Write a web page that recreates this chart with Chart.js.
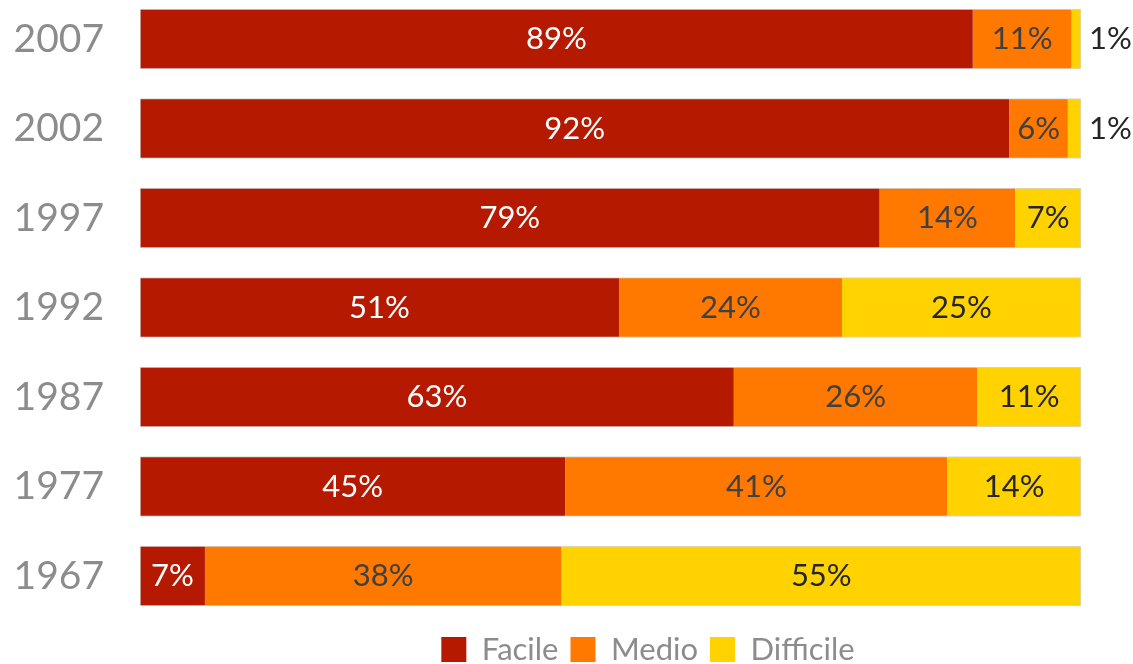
<!DOCTYPE html>
<html>
<head>
<meta charset="utf-8">
<script src="https://cdn.jsdelivr.net/npm/chart.js@4.4.1/dist/chart.umd.min.js"></script>
<style>
html, body { margin: 0; padding: 0; background: #fff; overflow: hidden; }
</style>
</head>
<body>
<canvas id="myChart" width="1133" height="664"></canvas>
<script>
var years = ["2007", "2002", "1997", "1992", "1987", "1977", "1967"];
var facile = [88.5, 92.4, 78.6, 50.9, 63.1, 45.2, 6.9];
var medio = [10.5, 6.2, 14.4, 23.7, 25.9, 40.6, 37.9];
var difficile = [1.0, 1.4, 7.0, 25.4, 11.0, 14.2, 55.2];

var seriesNames = ["Facile", "Medio", "Difficile"];
var seriesColors = ['#B51A00', '#FF7800', '#FFD200'];
var labelColors = ['#ffffff', '#404040', '#262626'];

Chart.defaults.font.family = 'Lato';

function points(values) {
    return values.map(function(v, i) { return { x: v, y: i }; });
}

// percent labels inside the segments, tiny ones go past the bar end
var valueLabels = {
    id: 'valueLabels',
    afterDatasetsDraw: function(chart) {
        var ctx = chart.ctx, area = chart.chartArea;
        ctx.save();
        ctx.font = '31px Lato';
        ctx.textBaseline = 'middle';
        chart.data.datasets.forEach(function(ds, di) {
            var meta = chart.getDatasetMeta(di);
            meta.data.forEach(function(bar, i) {
                var text = Math.round(ds.data[i].x) + '%';
                var p = bar.getProps(['x', 'y', 'base'], true);
                var w = Math.abs(p.x - p.base);
                var tw = ctx.measureText(text).width;
                ctx.fillStyle = labelColors[di];
                if (tw > w - 4) {
                    ctx.textAlign = 'left';
                    ctx.fillText(text, area.right + 8, p.y);
                } else {
                    ctx.textAlign = 'center';
                    ctx.fillText(text, (p.x + p.base) / 2, p.y);
                }
            });
        });
        ctx.restore();
    }
};

// move the legend so it sits where the original one is
var legendShift = {
    id: 'legendShift',
    afterLayout: function(chart) {
        var lg = chart.legend;
        var dx = 648 - (lg.left + lg.right) / 2;
        lg.left += dx;
        lg.right += dx;
    }
};

var ctx = document.getElementById('myChart').getContext('2d');
var chart = new Chart(ctx, {
    type: 'bar',
    data: {
        datasets: [facile, medio, difficile].map(function(values, di) {
            return {
                label: seriesNames[di],
                data: points(values),
                backgroundColor: seriesColors[di],
                borderColor: '#d6d6d6',
                borderWidth: { top: 1, bottom: 1, left: di === 0 ? 1 : 0, right: di === 2 ? 1 : 0 },
                borderSkipped: false,
                barThickness: 60
            };
        })
    },
    options: {
        responsive: false,
        animation: false,
        indexAxis: 'y',
        layout: { padding: { top: 0, right: 52, bottom: -11, left: 0 } },
        scales: {
            x: { type: 'linear', stacked: true, min: 0, max: 100, display: false },
            y: {
                type: 'linear',
                stacked: true,
                reverse: true,
                offset: false,
                min: -39 / 89.5,
                max: -39 / 89.5 + 622 / 89.5,
                grid: { display: false, drawTicks: false },
                border: { display: false },
                afterBuildTicks: function(axis) {
                    axis.ticks = years.map(function(_, i) { return { value: i }; });
                },
                afterFit: function(axis) {
                    axis.width = 140;
                    axis.paddingTop = 0;
                    axis.paddingBottom = 0;
                },
                ticks: {
                    autoSkip: false,
                    padding: 36,
                    color: '#8c8c8c',
                    font: { size: 39 },
                    callback: function(v) { return years[v]; }
                }
            }
        },
        plugins: {
            tooltip: { enabled: false },
            legend: {
                position: 'bottom',
                labels: {
                    boxWidth: 25,
                    boxHeight: 25,
                    padding: 12,
                    color: '#8c8c8c',
                    font: { size: 31 },
                    generateLabels: function(chart) {
                        return Chart.defaults.plugins.legend.labels.generateLabels(chart).map(function(it) {
                            it.lineWidth = 0;
                            it.strokeStyle = it.fillStyle;
                            return it;
                        });
                    }
                }
            }
        }
    },
    plugins: [valueLabels, legendShift]
});
</script>
</body>
</html>
